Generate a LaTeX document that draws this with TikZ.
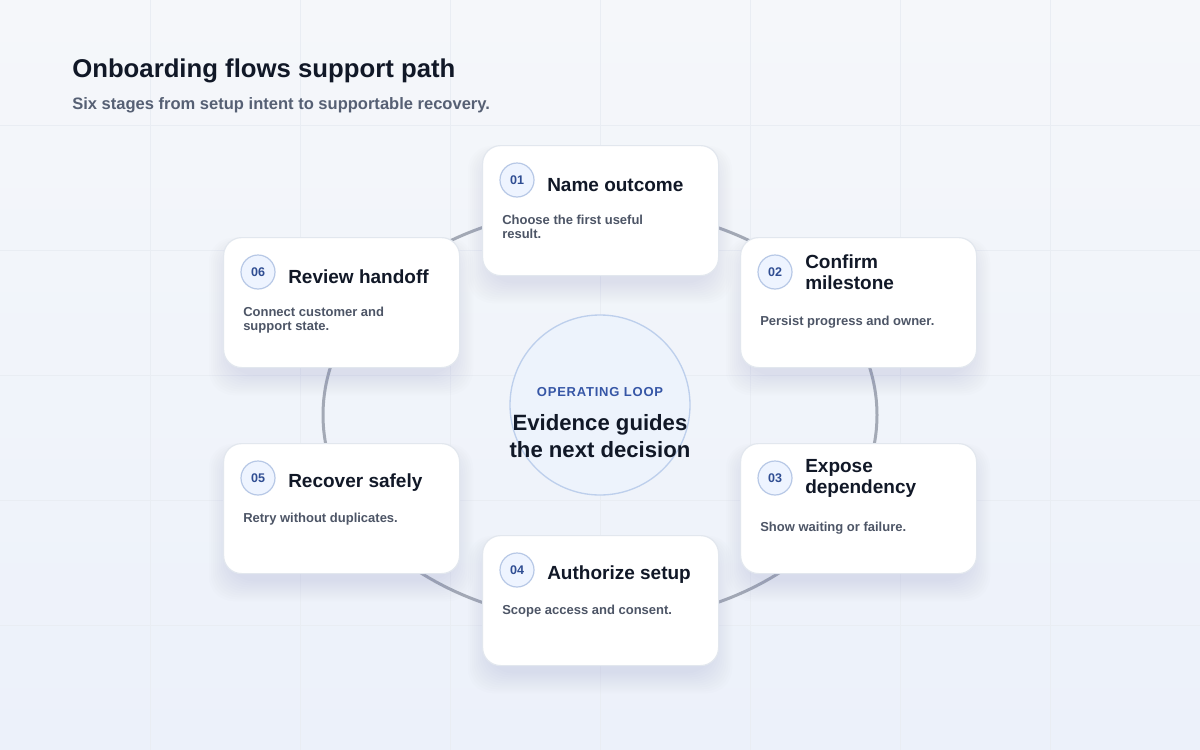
\documentclass[tikz,border=0pt]{standalone}
\usepackage{fontspec}
\setmainfont{Liberation Sans}
\newfontfamily\tagfont[LetterSpace=6]{Liberation Sans}

\definecolor{bgtop}{HTML}{F5F7FA}
\definecolor{bgbot}{HTML}{ECF1FA}
\definecolor{gridc}{HTML}{E9EDF3}
\definecolor{inkc}{HTML}{111827}
\definecolor{subc}{HTML}{566074}
\definecolor{bodyc}{HTML}{4D5566}
\definecolor{tagc}{HTML}{3656A6}
\definecolor{ringc}{HTML}{A3A9B5}
\definecolor{cardline}{HTML}{E2E7EE}
\definecolor{shadowc}{HTML}{8090B5}
\definecolor{badgefill}{HTML}{EEF4FF}
\definecolor{badgeline}{HTML}{B7C8E6}
\definecolor{badgetext}{HTML}{2F4D92}
\definecolor{hubfill}{HTML}{EDF3FC}
\definecolor{hubline}{HTML}{BDCFEC}

\begin{document}
\begin{tikzpicture}[x=0.75pt, y=-0.75pt,
    card/.style={draw=cardline, line width=0.9pt, fill=white, rounded corners=13.5pt,
        minimum width=177pt, minimum height=97.5pt, inner sep=0pt, anchor=north west},
    badge/.style={circle, draw=badgeline, line width=0.9pt, fill=badgefill, minimum size=25.5pt,
        inner sep=0pt, text=badgetext, font=\bfseries\fontsize{9.4}{10}\selectfont},
    stagetitle/.style={anchor=west, align=left, inner sep=0pt, text=inkc,
        font=\bfseries\fontsize{14.25}{15.75}\selectfont},
    stagebody/.style={anchor=north west, align=left, inner sep=0pt, text=bodyc,
        font=\bfseries\fontsize{9.75}{10.5}\selectfont}]

    % Background with a light gradient
    \fill[top color=bgtop, bottom color=bgbot] (0,0) rectangle (1200,750);
    \useasboundingbox (0,0) rectangle (1200,750);

    % Faint grid behind everything
    \foreach \gx in {150,300,...,1050}
        \draw[gridc, line width=0.5pt] (\gx,0) -- (\gx,750);
    \foreach \gy in {125,250,...,625}
        \draw[gridc, line width=0.5pt] (0,\gy) -- (1200,\gy);

    % Heading
    \node[anchor=base west, inner sep=0pt, text=inkc, font=\bfseries\fontsize{19.3}{22}\selectfont]
        (heading) at (72,77) {Onboarding flows support path};
    \node[anchor=base west, inner sep=0pt, text=subc, font=\bfseries\fontsize{12.4}{14}\selectfont]
        (subheading) at (72,109) {Six stages from setup intent to supportable recovery.};

    % The loop that links the stages
    \draw[ringc, line width=2.25pt] (600,415) ellipse [x radius=277, y radius=207];

    % Centre of the loop
    \node[circle, draw=hubline, fill=hubfill, line width=1pt, minimum size=135pt, inner sep=0pt]
        (hub) at (600,405) {};
    \node[text=tagc, font=\tagfont\bfseries\fontsize{9.75}{10}\selectfont]
        (hubtag) at (600,392) {OPERATING LOOP};
    \node[align=center, text=inkc, font=\bfseries\fontsize{16.6}{20.25}\selectfont]
        (hubtext) at (600,436) {Evidence guides\\the next decision};

    % Stage cards: number / left / top / title / text / title centre / text top
    \foreach \n/\px/\py/\ttl/\txt/\ty/\dy in {
        01/482/145/{Name outcome}/{Choose the first useful\\result.}/40/70,
        02/740/237/{Confirm\\milestone}/{Persist progress and owner.}/35/79,
        03/740/443/{Expose\\dependency}/{Show waiting or failure.}/35/79,
        04/482/535/{Authorize setup}/{Scope access and consent.}/40/70,
        05/223/443/{Recover safely}/{Retry without duplicates.}/40/70,
        06/223/237/{Review handoff}/{Connect customer and\\support state.}/40/70} {
        % soft shadow, mostly below the card
        \foreach \k in {1,...,11}
            \fill[shadowc, opacity=0.016, rounded corners=18pt]
                (\px+8-2*\k, \py+14-1.2*\k) rectangle (\px+228+2*\k, \py+136+2*\k);
        \node[card] (card\n) at (\px,\py) {};
        \node[badge] (badge\n) at (\px+35,\py+35) {\n};
        \node[stagetitle] (title\n) at (\px+65,\py+\ty) {\ttl};
        \node[stagebody] (body\n) at (\px+20,\py+\dy) {\txt};
    }
\end{tikzpicture}
\end{document}
